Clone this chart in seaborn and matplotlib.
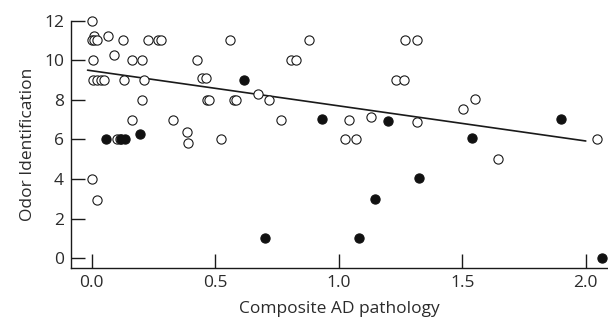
import matplotlib
matplotlib.use("Agg")
import matplotlib.pyplot as plt
import seaborn as sns
import numpy as np

# open circles
open_x = [0.0, 0.01, 0.0, 0.01, 0.02, 0.065, 0.127, 0.227, 0.27, 0.28, 0.558, 0.878,
          1.268, 1.316, 0.005, 0.091, 0.162, 0.205, 0.427, 0.808, 0.828, 1.23, 1.264,
          0.005, 0.023, 0.037, 0.051, 0.129, 0.212, 0.447, 0.461, 0.203, 0.468, 0.475,
          0.574, 0.583, 0.671, 0.718, 1.502, 1.55, 0.163, 0.33, 0.767, 1.042, 1.129,
          1.316, 0.104, 0.113, 0.385, 0.391, 0.522, 1.024, 1.071, 2.047, 1.644, 0.0, 0.023]
open_y = [12, 11.25, 11, 11, 11, 11.25, 11, 11, 11, 11, 11, 11,
          11, 11, 10, 10.25, 10, 10, 10, 10, 10, 9, 9,
          9, 9, 9, 9, 9, 9, 9.1, 9.1, 8, 8, 8,
          8, 8, 8.29, 8, 7.53, 8.03, 7, 7, 7, 7, 7.14,
          6.88, 6, 6, 6.35, 5.82, 6, 6, 6, 6, 5, 4, 2.93]

# filled circles
filled_x = [0.057, 0.12, 0.136, 0.197, 0.616, 0.934, 1.199, 1.539, 1.9, 1.323, 1.145,
            0.70, 1.08, 2.066]
filled_y = [6, 6, 6, 6.27, 9, 7.03, 6.93, 6.05, 7.03, 4.03, 3.0, 1.0, 1.0, 0.0]

# regression line
fit_range = [-0.017, 2.0]
fit_intercept = 9.47
fit_slope = -1.775

x_ticks = [0.0, 0.5, 1.0, 1.5, 2.0]
y_ticks = [0, 2, 4, 6, 8, 10, 12]

sns.set_style("ticks")
plt.rcParams['font.family'] = ['Open Sans', 'DejaVu Sans']
text_color = '#2b2b2b'

fig = plt.figure(figsize=(6.08, 3.21), dpi=100)
ax = fig.add_axes([0.1168, 0.1651, 0.8832, 0.7704])

sns.scatterplot(x=open_x, y=open_y, ax=ax, s=44, marker='o', facecolor='white',
                edgecolor='#1a1a1a', linewidth=0.8, clip_on=False, zorder=3)
sns.scatterplot(x=filled_x, y=filled_y, ax=ax, s=44, marker='o', color='#111111',
                edgecolor='#111111', linewidth=0.8, clip_on=False, zorder=3)

lx = np.array(fit_range)
ax.plot(lx, fit_intercept + fit_slope * lx, color='#1a1a1a', linewidth=1.2, zorder=2)

ax.set_xlim(-0.084, 2.09)
ax.set_ylim(-0.5, 12)
ax.set_xticks(x_ticks)
ax.set_xticklabels([f"{v:.1f}" for v in x_ticks])
ax.set_yticks(y_ticks)

ax.tick_params(direction='in', length=10, width=1.0, colors='#1a1a1a',
               labelcolor=text_color, labelsize=12.5, pad=5)
ax.set_xlabel('Composite AD pathology', fontsize=12.5, color=text_color, labelpad=7)
ax.set_ylabel('Odor Identification', fontsize=12.5, color=text_color, labelpad=6)

sns.despine(ax=ax)
for side in ['left', 'bottom']:
    ax.spines[side].set_linewidth(1.0)
    ax.spines[side].set_color('#1a1a1a')

plt.savefig('out.png', dpi=100)
plt.close()
